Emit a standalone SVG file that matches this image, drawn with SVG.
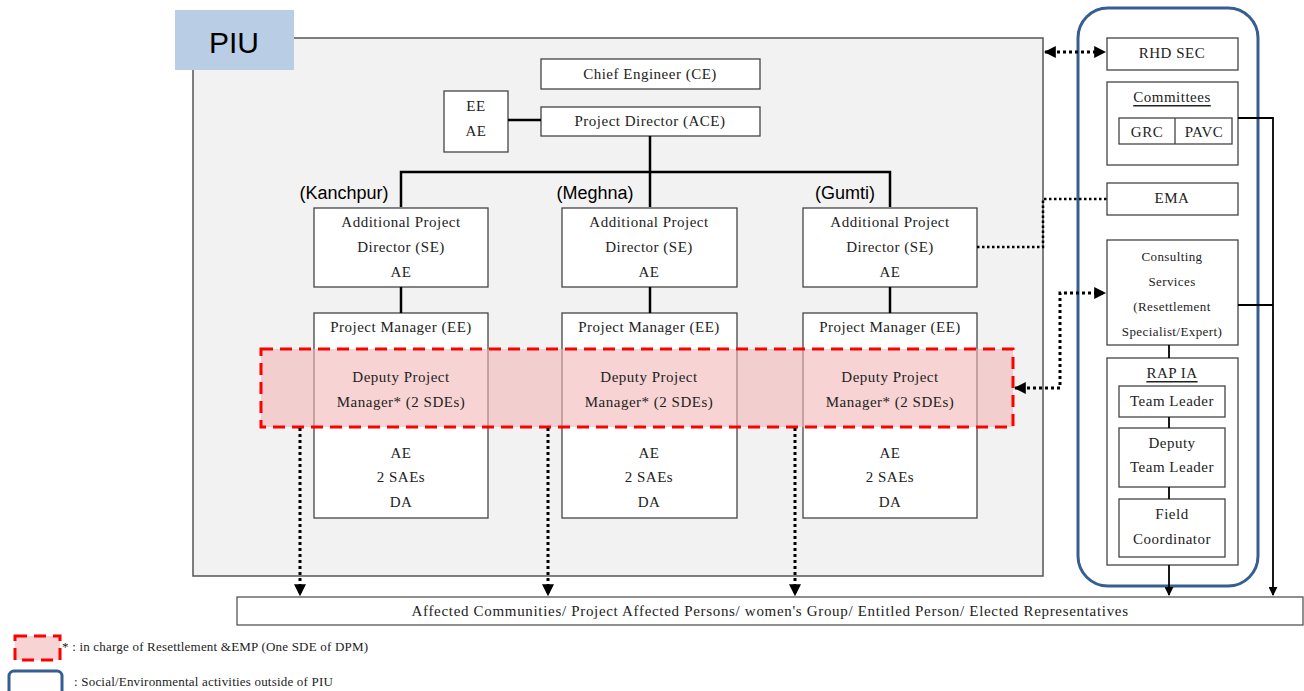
<svg xmlns="http://www.w3.org/2000/svg" width="1304" height="691" viewBox="0 0 1304 691">
<style>
.t{font-family:"Liberation Serif",serif;font-size:15px;letter-spacing:0.5px;fill:#222;text-anchor:middle;dominant-baseline:central}
.s{font-family:"Liberation Sans",Arial,sans-serif;font-size:18px;fill:#000;text-anchor:middle;dominant-baseline:central}
.box{fill:#fff;stroke:#444;stroke-width:1.3}
.solid{fill:none;stroke:#000;stroke-width:2.5}
.thin{fill:none;stroke:#000;stroke-width:1.8}
.dot{fill:none;stroke:#000;stroke-width:3;stroke-dasharray:3 3}
.red{fill:#f4b6b6;fill-opacity:0.6;stroke:#ff0000;stroke-width:3;stroke-dasharray:12 7}
.blue{fill:none;stroke:#365f91;stroke-width:3}
</style>
<defs>
<marker id="ah" viewBox="0 0 10 10" refX="9" refY="5" markerWidth="4" markerHeight="4" orient="auto-start-reverse">
<path d="M0,0 L10,5 L0,10 z" fill="#000"/>
</marker>
<marker id="ahs" viewBox="0 0 10 10" refX="9" refY="5" markerWidth="5" markerHeight="5" orient="auto-start-reverse">
<path d="M0,0 L10,5 L0,10 z" fill="#000"/>
</marker>
</defs>
<rect width="1304" height="691" fill="#fff"/>

<g id="piu">
<rect x="193" y="38" width="850" height="538" fill="#f2f2f2" stroke="#555" stroke-width="1.5"/>
<rect x="175" y="10" width="119" height="60" fill="#b9cde5"/>
<text x="234" y="42" class="s" style="font-size:30px">PIU</text>
</g>

<g id="outside">
<rect x="1078" y="8" width="180" height="578" rx="30" class="blue"/>
</g>

<g id="ce"><rect x="541" y="59" width="219" height="30" class="box"/><text x="650" y="74" class="t">Chief Engineer (CE)</text></g>
<g id="pd"><rect x="541" y="107" width="219" height="29" class="box"/><text x="650" y="121" class="t">Project Director (ACE)</text></g>
<g id="eeae"><rect x="444" y="91" width="64" height="61" class="box"/><text x="476" y="106" class="t">EE</text><text x="476" y="131" class="t">AE</text></g>

<g id="labels">
<text x="344" y="193" class="s">(Kanchpur)</text>
<text x="595" y="193" class="s">(Meghna)</text>
<text x="845" y="193" class="s">(Gumti)</text>
</g>

<g id="apd-k"><rect x="314" y="208" width="174" height="79" class="box"/><text x="401" y="222" class="t">Additional Project</text><text x="401" y="247" class="t">Director (SE)</text><text x="401" y="272" class="t">AE</text></g>
<g id="apd-m"><rect x="562" y="208" width="175" height="79" class="box"/><text x="649" y="222" class="t">Additional Project</text><text x="649" y="247" class="t">Director (SE)</text><text x="649" y="272" class="t">AE</text></g>
<g id="apd-g"><rect x="803" y="208" width="174" height="79" class="box"/><text x="890" y="222" class="t">Additional Project</text><text x="890" y="247" class="t">Director (SE)</text><text x="890" y="272" class="t">AE</text></g>

<g id="pm-k"><rect x="314" y="313" width="174" height="205" class="box"/><text x="401" y="327" class="t">Project Manager (EE)</text></g>
<g id="pm-m"><rect x="562" y="313" width="175" height="205" class="box"/><text x="649" y="327" class="t">Project Manager (EE)</text></g>
<g id="pm-g"><rect x="803" y="313" width="174" height="205" class="box"/><text x="890" y="327" class="t">Project Manager (EE)</text></g>

<g id="dpm-band"><rect x="261" y="349" width="752" height="78" class="red"/></g>

<g id="pm-k-text"><text x="401" y="377" class="t">Deputy Project</text><text x="401" y="402" class="t">Manager* (2 SDEs)</text><text x="401" y="453" class="t">AE</text><text x="401" y="477" class="t">2 SAEs</text><text x="401" y="502" class="t">DA</text></g>
<g id="pm-m-text"><text x="649" y="377" class="t">Deputy Project</text><text x="649" y="402" class="t">Manager* (2 SDEs)</text><text x="649" y="453" class="t">AE</text><text x="649" y="477" class="t">2 SAEs</text><text x="649" y="502" class="t">DA</text></g>
<g id="pm-g-text"><text x="890" y="377" class="t">Deputy Project</text><text x="890" y="402" class="t">Manager* (2 SDEs)</text><text x="890" y="453" class="t">AE</text><text x="890" y="477" class="t">2 SAEs</text><text x="890" y="502" class="t">DA</text></g>

<g id="rhd"><rect x="1107" y="38" width="131" height="32" class="box"/><text x="1172" y="53" class="t">RHD SEC</text></g>
<g id="committees"><rect x="1107" y="82" width="131" height="83" class="box"/><text x="1172" y="97" class="t" text-decoration="underline">Committees</text>
<rect x="1119" y="118" width="113" height="26" class="box"/><line x1="1175" y1="118" x2="1175" y2="144" stroke="#444" stroke-width="1.3"/>
<text x="1147" y="132" class="t">GRC</text><text x="1204" y="132" class="t">PAVC</text></g>
<g id="ema"><rect x="1107" y="183" width="131" height="32" class="box"/><text x="1172" y="198" class="t">EMA</text></g>
<g id="consult"><rect x="1107" y="240" width="131" height="105" class="box"/>
<text x="1172" y="256" class="t" style="font-size:13px;letter-spacing:0.4px">Consulting</text><text x="1172" y="281" class="t" style="font-size:13px;letter-spacing:0.4px">Services</text><text x="1172" y="306" class="t" style="font-size:13px;letter-spacing:0.4px">(Resettlement</text><text x="1172" y="331" class="t" style="font-size:13px;letter-spacing:0.4px">Specialist/Expert)</text></g>
<g id="rapia"><rect x="1107" y="358" width="131" height="207" class="box"/><text x="1172" y="373" class="t" text-decoration="underline">RAP IA</text></g>
<g id="tl"><rect x="1119" y="386" width="106" height="31" class="box"/><text x="1172" y="401" class="t">Team Leader</text></g>
<g id="dtl"><rect x="1119" y="428" width="106" height="59" class="box"/><text x="1172" y="443" class="t">Deputy</text><text x="1172" y="467" class="t">Team Leader</text></g>
<g id="fc"><rect x="1119" y="499" width="106" height="58" class="box"/><text x="1172" y="514" class="t">Field</text><text x="1172" y="539" class="t">Coordinator</text></g>

<g id="affected"><rect x="237" y="597" width="1066" height="28" fill="#fff" stroke="#555" stroke-width="1.3"/>
<text x="770" y="611" class="t" textLength="717" lengthAdjust="spacing">Affected Communities/ Project Affected Persons/ women's Group/ Entitled Person/ Elected Representatives</text></g>

<g id="connectors">
<line x1="508" y1="120" x2="541" y2="120" class="solid"/>
<polyline points="650,136 650,172" class="solid"/>
<polyline points="401,207 401,172 890,172 890,207" class="solid"/>
<line x1="650" y1="172" x2="650" y2="207" class="solid"/>
<line x1="401" y1="287" x2="401" y2="313" class="solid"/>
<line x1="650" y1="287" x2="650" y2="313" class="solid"/>
<line x1="890" y1="287" x2="890" y2="313" class="solid"/>
<line x1="300" y1="428" x2="300" y2="595" class="dot" marker-end="url(#ah)"/>
<line x1="548" y1="428" x2="548" y2="595" class="dot" marker-end="url(#ah)"/>
<line x1="795" y1="428" x2="795" y2="595" class="dot" marker-end="url(#ah)"/>
<line x1="1045" y1="52" x2="1105" y2="52" class="dot" marker-start="url(#ah)" marker-end="url(#ah)"/>
<polyline points="977,247 1043,247 1043,199 1107,199" fill="none" stroke="#000" stroke-width="2.5" stroke-dasharray="2.5 2.5"/>
<polyline points="1015,388 1060,388 1060,293 1105,293" class="dot" marker-start="url(#ah)" marker-end="url(#ah)"/>
<line x1="1169" y1="345" x2="1169" y2="358" class="thin"/>
<line x1="1169" y1="417" x2="1169" y2="428" class="thin"/>
<line x1="1169" y1="487" x2="1169" y2="499" class="thin"/>
<line x1="1169" y1="565" x2="1169" y2="595" class="thin" marker-end="url(#ahs)"/>
<polyline points="1238,118 1273,118 1273,595" class="thin" marker-end="url(#ahs)"/>
<line x1="1238" y1="305" x2="1273" y2="305" class="thin"/>
</g>

<g id="legend">
<rect x="15" y="636" width="45" height="24" class="red"/>
<text x="62" y="646" class="t" style="text-anchor:start;font-size:13px;letter-spacing:0.2px">* : in charge of Resettlement &amp;EMP (One SDE of DPM)</text>
<rect x="9" y="671" width="53" height="26" rx="5" class="blue"/>
<text x="74" y="681" class="t" style="text-anchor:start;font-size:13px;letter-spacing:0.2px">: Social/Environmental activities outside of PIU</text>
</g>
</svg>
